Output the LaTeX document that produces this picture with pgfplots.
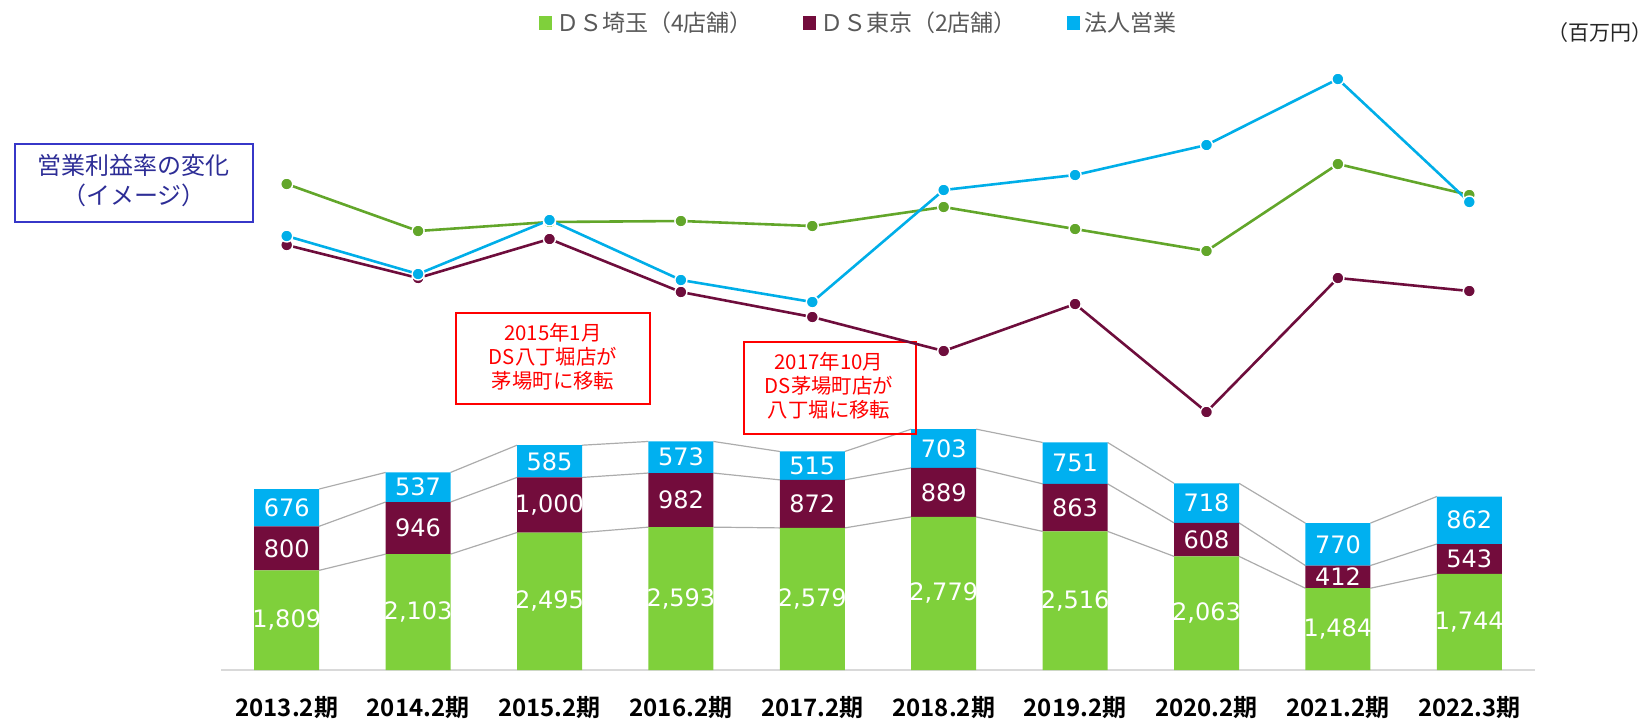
\documentclass[border=0pt]{standalone}
\usepackage{pgfplots}
\pgfplotsset{compat=1.18}
\usepackage{pgfplotstable}
\usepackage{fontspec}
\setmainfont{Noto Sans CJK JP}[BoldFont={Noto Sans CJK JP Bold}]
\newfontfamily\numfont{DejaVu Sans}
\definecolor{cgreen}{RGB}{127,208,59}
\definecolor{cmaroon}{RGB}{115,12,60}
\definecolor{cblue}{RGB}{0,176,240}
\definecolor{lgreen}{RGB}{98,166,42}
\definecolor{lmaroon}{RGB}{110,13,60}
\definecolor{lblue}{RGB}{0,174,232}
\definecolor{boxblue}{RGB}{55,55,200}
\definecolor{txtblue}{RGB}{45,45,150}
\definecolor{leggray}{RGB}{89,89,89}

\pgfplotstableread{
x green maroon blue
0 1809 800 676
1 2103 946 537
2 2495 1000 585
3 2593 982 573
4 2579 872 515
5 2779 889 703
6 2516 863 751
7 2063 608 718
8 1484 412 770
9 1744 543 862
}\bardata

% operating margin lines (image only, arbitrary scale)
\pgfplotstableread{
x green maroon blue
0 486 425 434
1 439 392 396
2 448 431 450
3 449 378 390
4 444 353 368
5 463 319 480
6 441 366 495
7 419 258 525
8 506 392 591
9 475 379 468
}\ratedata

\pgfplotsset{
  base/.style={scale only axis, width=657pt, height=305pt,
    xmin=-0.5, xmax=9.5, at={(110.5pt,-335pt)}, anchor=south west},
}

\begin{document}
\begin{tikzpicture}[x=0.5pt,y=-0.5pt]
\path[use as bounding box] (0,0) rectangle (1651,720);

% connector lines
\begin{axis}[base, ymin=0, ymax=11071, hide axis, unbounded coords=jump]
\addplot[gray!65, line width=0.6pt] coordinates {
(0.2473,1809)(0.7527,2103)(1,nan)(1.2473,2103)(1.7527,2495)(2,nan)
(2.2473,2495)(2.7527,2593)(3,nan)(3.2473,2593)(3.7527,2579)(4,nan)
(4.2473,2579)(4.7527,2779)(5,nan)(5.2473,2779)(5.7527,2516)(6,nan)
(6.2473,2516)(6.7527,2063)(7,nan)(7.2473,2063)(7.7527,1484)(8,nan)
(8.2473,1484)(8.7527,1744)};
\addplot[gray!65, line width=0.6pt] coordinates {
(0.2473,2609)(0.7527,3049)(1,nan)(1.2473,3049)(1.7527,3495)(2,nan)
(2.2473,3495)(2.7527,3575)(3,nan)(3.2473,3575)(3.7527,3451)(4,nan)
(4.2473,3451)(4.7527,3668)(5,nan)(5.2473,3668)(5.7527,3379)(6,nan)
(6.2473,3379)(6.7527,2671)(7,nan)(7.2473,2671)(7.7527,1896)(8,nan)
(8.2473,1896)(8.7527,2287)};
\addplot[gray!65, line width=0.6pt] coordinates {
(0.2473,3285)(0.7527,3586)(1,nan)(1.2473,3586)(1.7527,4080)(2,nan)
(2.2473,4080)(2.7527,4148)(3,nan)(3.2473,4148)(3.7527,3966)(4,nan)
(4.2473,3966)(4.7527,4371)(5,nan)(5.2473,4371)(5.7527,4130)(6,nan)
(6.2473,4130)(6.7527,3389)(7,nan)(7.2473,3389)(7.7527,2666)(8,nan)
(8.2473,2666)(8.7527,3149)};
\end{axis}

% stacked bars
\begin{axis}[base, ymin=0, ymax=11071,
  ybar stacked, bar width=32.5pt,
  axis y line=none, axis x line*=bottom,
  x axis line style={draw=gray!30, line width=1.2pt},
  xtick={0,...,9}, major tick length=0,
  xticklabels={2013.2期,2014.2期,2015.2期,2016.2期,2017.2期,2018.2期,2019.2期,2020.2期,2021.2期,2022.3期},
  xticklabel style={font=\bfseries\fontsize{12}{14}\selectfont, anchor=center, yshift=-19pt},
  nodes near coords,
  nodes near coords style={font=\numfont\fontsize{12}{14}\selectfont, text=white, anchor=center},
  /pgf/number format/.cd, 1000 sep={,}, assume math mode=true, /pgfplots/.cd,
  legend columns=3,
  legend style={at={(0.486,1.0607)}, anchor=center, draw=none, fill=none,
     font=\fontsize{11.5}{13}\selectfont, text=leggray,
     /tikz/every even column/.append style={column sep=23pt}},
  legend image code/.code={\fill[#1, draw=none] (0pt,-3.3pt) rectangle (6.6pt,3.3pt);},
]
\addplot[fill=cgreen, draw=none] table[x=x, y=green] {\bardata};
\addplot[fill=cmaroon, draw=none] table[x=x, y=maroon] {\bardata};
\addplot[fill=cblue, draw=none] table[x=x, y=blue] {\bardata};
\legend{ＤＳ埼玉（4店舗）,ＤＳ東京（2店舗）,法人営業}
\end{axis}

% annotation boxes
\draw[boxblue, line width=1pt] (15,144) rectangle (253,222);
\node[txtblue, font=\fontsize{12}{15}\selectfont, align=center] at (134,181) {営業利益率の変化\\（イメージ）};
\draw[red, line width=1pt] (456,313) rectangle (650,404);
\node[red, font=\fontsize{10.2}{12}\selectfont, align=center] at (553,357) {2015年1月\\DS八丁堀店が\\茅場町に移転};
\draw[red, line width=1pt] (744,342) rectangle (916,434);
\node[red, font=\fontsize{10.2}{12}\selectfont, align=center] at (829,386) {2017年10月\\DS茅場町店が\\八丁堀に移転};
\node[font=\fontsize{10.5}{12}\selectfont, text=black!85] at (1600,33) {（百万円）};

% rate lines
\begin{axis}[base, ymin=0, ymax=610, hide axis, clip=false]
\addplot[lmaroon, line width=1.3pt, mark=*, mark size=3pt, mark options={fill=lmaroon, draw=white, line width=0.7pt}] table[x=x, y=maroon] {\ratedata};
\addplot[lgreen, line width=1.3pt, mark=*, mark size=3pt, mark options={fill=lgreen, draw=white, line width=0.7pt}] table[x=x, y=green] {\ratedata};
\addplot[lblue, line width=1.3pt, mark=*, mark size=3pt, mark options={fill=lblue, draw=white, line width=0.7pt}] table[x=x, y=blue] {\ratedata};
\end{axis}
\end{tikzpicture}
\end{document}
